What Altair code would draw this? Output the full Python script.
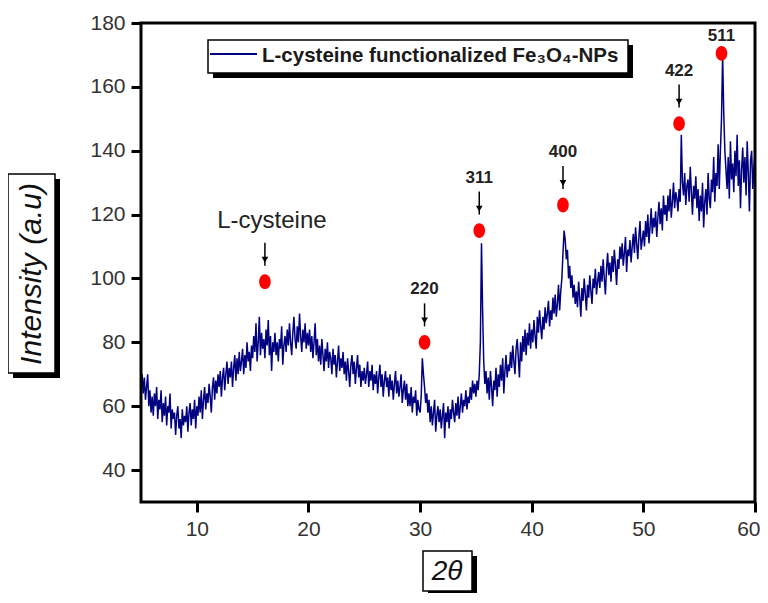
import altair as alt
import pandas as pd

# XRD intensity, 2-theta from 5.0 to 60.0 in 0.1 steps
intensity = [
    68, 70, 64, 69, 62, 66, 70, 60, 65, 58,
    63, 57, 64, 60, 66, 56, 62, 59, 65, 55,
    61, 57, 63, 54, 60, 58, 64, 53, 59, 56,
    58, 51, 57, 60, 53, 56, 50, 59, 54, 57,
    55, 60, 52, 58, 61, 54, 59, 56, 62, 53,
    60, 57, 63, 58, 65, 56, 62, 66, 59, 64,
    61, 67, 63, 58, 66, 69, 62, 68, 64, 70,
    66, 71, 63, 69, 72, 65, 70, 74, 67, 72,
    69, 74, 66, 72, 76, 68, 75, 70, 77, 71,
    74, 78, 70, 76, 72, 80, 74, 77, 71, 79,
    75, 82, 77, 86, 74, 80, 88, 76, 83, 78,
    81, 75, 84, 79, 87, 76, 82, 71, 80, 77,
    83, 76, 80, 74, 81, 78, 85, 73, 79, 82,
    77, 84, 79, 86, 80, 76, 83, 88, 81, 78,
    85, 80, 89, 82, 77, 84, 80, 86, 78, 83,
    79, 84, 77, 82, 75, 80, 86, 76, 81, 74,
    79, 73, 81, 76, 71, 78, 74, 80, 72, 77,
    75, 70, 78, 73, 76, 69, 74, 79, 71, 75,
    72, 77, 70, 74, 68, 75, 71, 66, 73, 76,
    70, 74, 67, 72, 76, 69, 73, 66, 71, 68,
    72, 67, 70, 74, 66, 71, 68, 73, 65, 70,
    67, 71, 64, 69, 73, 66, 70, 63, 68, 71,
    66, 69, 63, 70, 65, 68, 62, 67, 71, 64,
    68, 63, 66, 70, 61, 65, 68, 62, 67, 60,
    64, 60, 66, 58, 63, 61, 65, 57, 62, 59,
    58, 63, 75, 70, 66, 61, 64, 58, 62, 55,
    60, 54, 58, 62, 52, 57, 60, 55, 59, 53,
    57, 61, 50, 58, 55, 60, 53, 59, 56, 62,
    58, 55, 61, 57, 63, 56, 60, 64, 58, 62,
    60, 65, 59, 63, 61, 66, 62, 68, 64, 67,
    63, 68, 65, 70, 80, 111, 90, 74, 67, 71,
    64, 69, 62, 71, 66, 60, 68, 65, 72, 63,
    70, 66, 73, 68, 75, 64, 71, 76, 69, 73,
    71, 77, 72, 79, 74, 70, 78, 81, 75, 69,
    80, 74, 82, 77, 84, 76, 83, 79, 86, 78,
    84, 80, 87, 82, 78, 88, 83, 90, 85, 81,
    88, 84, 91, 86, 89, 93, 85, 90, 87, 94,
    89, 95, 88, 92, 98, 90, 96, 100, 108, 115,
    112, 106, 109, 100, 104, 97, 101, 94, 98, 92,
    96, 91, 99, 94, 88, 97, 93, 100, 95, 90,
    98, 94, 101, 96, 92, 100, 97, 103, 95, 99,
    102, 97, 104, 99, 106, 100, 95, 103, 108, 101,
    105, 99, 107, 102, 109, 104, 98, 106, 103, 110,
    106, 111, 104, 108, 113, 102, 109, 107, 112, 105,
    110, 114, 108, 116, 111, 106, 113, 118, 109, 112,
    115, 110, 118, 113, 120, 111, 116, 122, 114, 119,
    116, 121, 113, 119, 124, 117, 122, 115, 126, 120,
    123, 118, 126, 121, 128, 119, 124, 130, 122, 127,
    125, 121, 128, 124, 145, 130, 126, 133, 123, 129,
    131, 124, 135, 127, 120, 129, 125, 132, 122, 128,
    118, 126, 121, 130, 116, 124, 128, 120, 133, 125,
    122, 131, 127, 138, 124, 133, 129, 142, 128, 140,
    150, 170, 152, 140, 134, 128, 138, 125, 143, 131,
    136, 127, 140, 132, 145, 129, 137, 122, 134, 141,
    130, 138, 126, 143, 133, 121, 137, 140, 128, 135,
    139,
]
two_theta = [round(5 + 0.1 * i, 1) for i in range(len(intensity))]

# Peak markers
peak_labels = ["L-cysteine", "220", "311", "400", "422", "511"]
peak_x = [16.1, 30.4, 35.3, 42.8, 53.2, 57.0]
peak_y = [99, 80, 115, 123, 148.5, 170.5]

x_ticks = [10, 20, 30, 40, 50, 60]
y_ticks = [40, 60, 80, 100, 120, 140, 160, 180]

legend_text = "L-cysteine functionalized Fe\u2083O\u2084-NPs"
y_title = "Intensity (a.u)"
x_title = "2\u03b8"

FONT = "Liberation Sans"
NAVY = "#000080"

line_df = pd.DataFrame({"two_theta": two_theta, "intensity": intensity})
peak_df = pd.DataFrame({"two_theta": peak_x, "intensity": peak_y, "label": peak_labels})
cys_df = peak_df.iloc[[0]]
arrow_df = peak_df.iloc[1:5]
top_df = peak_df.iloc[[5]]
one = pd.DataFrame({"k": [0]})

axis_common = dict(grid=False, domain=False, ticks=True, tickColor="black",
                   tickWidth=3, tickSize=10, labelFont=FONT, labelFontSize=21,
                   labelColor="#333333", labelPadding=6, title=None)


def X(field="two_theta"):
    return alt.X(f"{field}:Q", scale=alt.Scale(domain=[5, 60], nice=False, zero=False),
                 axis=alt.Axis(values=x_ticks, labelFlush=True, labelFlushOffset=5,
                               **axis_common))


def Y(field="intensity"):
    return alt.Y(f"{field}:Q", scale=alt.Scale(domain=[30, 180], nice=False, zero=False),
                 axis=alt.Axis(values=y_ticks, labelFlush=False, **axis_common))


line = alt.Chart(line_df).mark_line(color=NAVY, strokeWidth=1.5).encode(x=X(), y=Y())

ellipse = "M0,-1A0.78,1 0 1,1 0,1A0.78,1 0 1,1 0,-1Z"
dots = alt.Chart(peak_df).mark_point(shape=ellipse, filled=True, color="#ff0000",
                                     opacity=1, size=220).encode(x=X(), y=Y())

arr_src = pd.concat([cys_df, arrow_df])
arrow_lines = alt.Chart(arr_src).mark_rule(color="black", strokeWidth=1.5,
                                           yOffset=-39, y2Offset=-16).encode(
    x=X(), y=Y(), y2=alt.Y2("intensity"))
arrow_heads = alt.Chart(arr_src).mark_point(shape="triangle-down", filled=True,
                                            color="black", opacity=1, size=45,
                                            yOffset=-22).encode(x=X(), y=Y())

num_text = alt.Chart(arrow_df).mark_text(dy=-53, font=FONT, fontSize=17, fontWeight="bold",
                                         color="#222222").encode(x=X(), y=Y(), text="label:N")
top_text = alt.Chart(top_df).mark_text(dy=-17, font=FONT, fontSize=17, fontWeight="bold",
                                       color="#222222").encode(x=X(), y=Y(), text="label:N")
cys_text = alt.Chart(cys_df).mark_text(dy=-61, dx=7, font=FONT, fontSize=24,
                                       color="#222222").encode(x=X(), y=Y(), text="label:N")


def box(x0, x1, y0, y1, shadow=5):
    sh = alt.Chart(one).mark_rect(color="black").encode(
        x=alt.value(x0 + shadow), x2=alt.value(x1 + shadow),
        y=alt.value(y0 + shadow), y2=alt.value(y1 + shadow))
    bx = alt.Chart(one).mark_rect(fill="white", stroke="black", strokeWidth=1.5).encode(
        x=alt.value(x0), x2=alt.value(x1), y=alt.value(y0), y2=alt.value(y1))
    return sh + bx


# Plot frame
frame = alt.Chart(one).mark_rect(fill="transparent", stroke="black", strokeWidth=3).encode(
    x=alt.value(0), x2=alt.value(614), y=alt.value(0), y2=alt.value(479))

# Legend
legend_box = box(67, 487, 17, 50, 5)
legend_line = alt.Chart(one).mark_rule(color=NAVY, strokeWidth=2).encode(
    x=alt.value(69), x2=alt.value(116), y=alt.value(31))
legend_label = alt.Chart(one).mark_text(align="left", baseline="middle", font=FONT,
                                        fontSize=20.5, fontWeight="bold", color="#1a1a1a").encode(
    x=alt.value(121), y=alt.value(33), text=alt.value(legend_text))

# Axis titles in boxes
ytitle_box = box(-133, -86, 151, 350, 5)
ytitle_text = alt.Chart(one).mark_text(angle=270, align="center", baseline="middle", font=FONT,
                                       fontSize=30, fontStyle="italic", color="#111111").encode(
    x=alt.value(-109), y=alt.value(251), text=alt.value(y_title))
xtitle_box = box(282, 331, 528, 568, 5)
xtitle_text = alt.Chart(one).mark_text(align="center", baseline="middle", font=FONT,
                                       fontSize=28, fontStyle="italic", color="#111111").encode(
    x=alt.value(306), y=alt.value(549), text=alt.value(x_title))

chart = alt.layer(
    line, dots, arrow_lines, arrow_heads, num_text, top_text, cys_text, frame,
    legend_box, legend_line, legend_label,
    ytitle_box, ytitle_text, xtitle_box, xtitle_text,
).properties(
    width=614, height=479, autosize="none", background="white",
    padding={"left": 133, "top": 15, "right": 5, "bottom": 91},
).configure_view(stroke=None)

chart.save("out.html", embed_options={"renderer": "svg", "actions": False})
